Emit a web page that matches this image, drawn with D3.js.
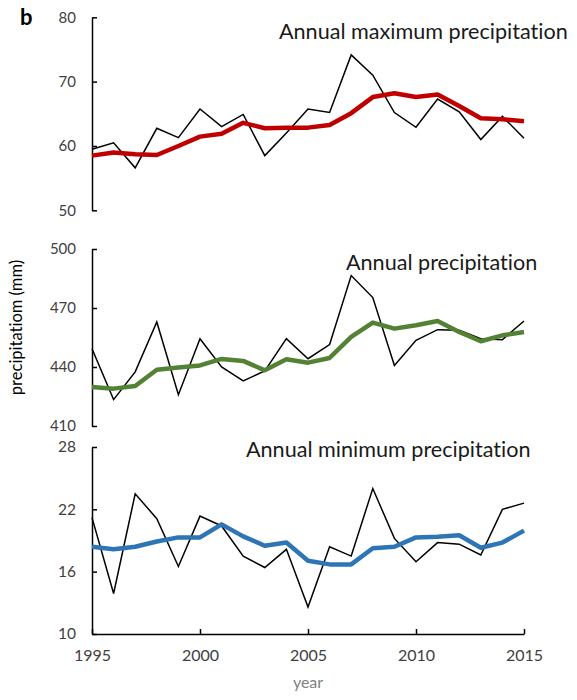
<!DOCTYPE html>
<html>
<head>
<meta charset="utf-8">
<script src="https://cdn.jsdelivr.net/npm/d3@7"></script>
<style>
  html, body { margin: 0; padding: 0; background: #fff; }
  svg { display: block; }
  svg text { font-variant-ligatures: none; font-feature-settings: "liga" 0, "clig" 0; }
</style>
</head>
<body>
<svg id="chart" width="577" height="700"></svg>
<script>
const years = d3.range(1995, 2016);

const maxAnnual = [59.5, 60.5, 56.6, 62.75, 61.3, 65.75, 63.0, 64.9, 58.5, 62.0, 65.75, 65.2, 74.15, 71.0, 65.2, 62.9, 67.3, 65.3, 61.0, 64.6, 61.2];
const maxSmooth = [58.5, 59.0, 58.7, 58.6, 60.0, 61.45, 61.9, 63.6, 62.75, 62.85, 62.85, 63.25, 65.1, 67.6, 68.2, 67.6, 68.0, 66.2, 64.3, 64.15, 63.85];

const totAnnual = [449.3, 423.4, 437.5, 462.9, 425.9, 454.4, 440.0, 432.9, 438.0, 454.4, 444.2, 451.4, 486.5, 475.3, 440.8, 453.6, 459.0, 458.7, 454.4, 453.9, 463.4];
const totSmooth = [429.8, 429.0, 430.3, 438.6, 439.7, 440.8, 444.1, 443.1, 438.3, 443.9, 442.2, 444.6, 455.3, 462.6, 459.5, 461.2, 463.4, 457.8, 453.1, 456.1, 457.8];

const minAnnual = [21.2, 13.9, 23.5, 21.1, 16.5, 21.35, 20.4, 17.5, 16.4, 18.15, 12.6, 18.4, 17.5, 24.0, 19.2, 16.95, 18.8, 18.65, 17.6, 22.0, 22.6];
const minSmooth = [18.4, 18.15, 18.4, 18.9, 19.3, 19.3, 20.55, 19.4, 18.5, 18.8, 17.05, 16.7, 16.7, 18.25, 18.4, 19.3, 19.35, 19.5, 18.3, 18.8, 19.95];

const maxTicks = [50, 60, 70, 80];
const totTicks = [410, 440, 470, 500];
const minTicks = [10, 16, 22, 28];
const yearTicks = [1995, 2000, 2005, 2010, 2015];

const titles = ["Annual maximum precipitation", "Annual precipitation", "Annual minimum precipitation"];

const svg = d3.select("#chart");
const FONT = "Lato, 'Open Sans', sans-serif";

const x = d3.scaleLinear().domain([1995, 2015]).range([92, 524]);

const panels = [
  { annual: maxAnnual, smooth: maxSmooth, ticks: maxTicks, domain: [50, 80], range: [210.3, 17.3], color: "#C00000", title: titles[0], tx: 279, ty: 39, fs: 15 },
  { annual: totAnnual, smooth: totSmooth, ticks: totTicks, domain: [410, 500], range: [426, 249], color: "#548235", title: titles[1], tx: 346, ty: 269.5, fs: 15 },
  { annual: minAnnual, smooth: minSmooth, ticks: minTicks, domain: [10, 28], range: [634, 447], color: "#2E75B6", title: titles[2], tx: 246, ty: 457, fs: 15.5 }
];

panels.forEach((p, i) => {
  const y = d3.scaleLinear().domain(p.domain).range(p.range);
  const g = svg.append("g");

  const ax = g.append("g")
    .attr("transform", `translate(${x(1995)},0)`)
    .call(d3.axisLeft(y).tickValues(p.ticks).tickSizeInner(-5).tickSizeOuter(0).tickPadding(16));
  ax.select(".domain").attr("stroke", "#000").attr("stroke-width", 1.5);
  ax.selectAll(".tick line").attr("stroke", "#000").attr("stroke-width", 1.5);
  ax.selectAll(".tick text").attr("font-family", FONT).attr("font-size", p.fs).attr("fill", "#404040");

  const line = d3.line().x((d, j) => x(years[j])).y(d => y(d));

  g.append("path").datum(p.annual)
    .attr("d", line).attr("fill", "none")
    .attr("stroke", "#000").attr("stroke-width", 1.5).attr("stroke-linejoin", "miter");

  g.append("path").datum(p.smooth)
    .attr("d", line).attr("fill", "none")
    .attr("stroke", p.color).attr("stroke-width", 4.5).attr("stroke-linejoin", "round");

  g.append("text")
    .attr("x", p.tx).attr("y", p.ty)
    .attr("font-family", FONT).attr("font-size", 21.6).attr("fill", "#1a1a1a")
    .text(p.title);

  if (i === 2) {
    const bx = g.append("g")
      .attr("transform", `translate(0,${y(10)})`)
      .call(d3.axisBottom(x).tickValues(yearTicks).tickFormat(d3.format("d")).tickSizeInner(-5).tickSizeOuter(0).tickPadding(16));
    bx.select(".domain").attr("stroke", "#000").attr("stroke-width", 1.5);
    bx.selectAll(".tick line").attr("stroke", "#000").attr("stroke-width", 1.5);
    bx.selectAll(".tick text").attr("font-family", FONT).attr("font-size", 16).attr("fill", "#404040");
  }
});

svg.append("text")
  .attr("x", 20).attr("y", 25)
  .attr("font-family", FONT).attr("font-size", 22).attr("font-weight", "bold")
  .attr("fill", "#000").text("b");

svg.append("text")
  .attr("transform", "translate(22,327.5) rotate(-90)")
  .attr("text-anchor", "middle")
  .attr("font-family", FONT).attr("font-size", 16.5).attr("fill", "#000")
  .text("precipitatiom (mm)");

svg.append("text")
  .attr("x", 308).attr("y", 688)
  .attr("text-anchor", "middle")
  .attr("font-family", FONT).attr("font-size", 16).attr("fill", "#7f7f7f")
  .text("year");
</script>
</body>
</html>
